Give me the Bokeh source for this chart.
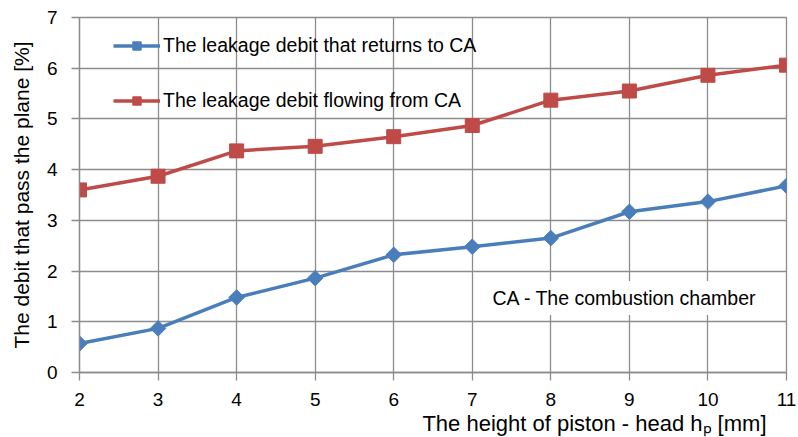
import math
from bokeh.plotting import figure
from bokeh.models import Range1d, Legend, LegendItem, Label, Title, FixedTicker
from bokeh.embed import file_html
from bokeh.resources import INLINE

heights = [2, 3, 4, 5, 6, 7, 8, 9, 10, 11]
returns_to_ca = [0.57, 0.87, 1.48, 1.86, 2.32, 2.48, 2.65, 3.17, 3.37, 3.68]
flowing_from_ca = [3.60, 3.87, 4.37, 4.46, 4.65, 4.87, 5.37, 5.55, 5.86, 6.06]
y_ticks = [0, 1, 2, 3, 4, 5, 6, 7]
name_returns = "The leakage debit that returns to CA"
name_flowing = "The leakage debit flowing from CA"
note_text = "CA - The combustion chamber"
x_title = "The height of piston - head hₚ [mm]"
y_title = "The debit that pass the plane [%]"

FONT = "Liberation Sans"
BLUE = "#4A7EBB"
RED = "#BE4B48"
GRID = "#8C8C8C"

p = figure(width=798, height=437, output_backend="svg", toolbar_location=None,
           x_range=Range1d(2, 11), y_range=Range1d(0, 7),
           min_border_left=79, min_border_right=12, min_border_top=17, min_border_bottom=65)
p.outline_line_color = GRID
p.outline_line_width = 1.3
p.background_fill_color = "white"

p.xaxis.ticker = FixedTicker(ticks=heights)
p.yaxis.ticker = FixedTicker(ticks=y_ticks)
for ax in (p.xaxis[0], p.yaxis[0]):
    ax.axis_line_color = GRID
    ax.axis_line_width = 1.3
    ax.major_tick_line_color = GRID
    ax.major_tick_line_width = 1.3
    ax.major_tick_out = 8
    ax.major_tick_in = 0
    ax.minor_tick_line_color = None
    ax.major_label_text_font = FONT
    ax.major_label_text_font_size = "19px"
    ax.major_label_text_color = "black"
p.xaxis.major_label_standoff = 12
p.yaxis.major_label_standoff = 14
p.yaxis.axis_label = y_title
p.yaxis.axis_label_text_font = FONT
p.yaxis.axis_label_text_font_size = "21px"
p.yaxis.axis_label_text_font_style = "normal"
p.yaxis.axis_label_text_color = "black"
p.yaxis.axis_label_standoff = 11

p.grid.grid_line_color = GRID
p.grid.grid_line_width = 1.3

xt = Title(text=x_title, align="right", offset=20, standoff=0,
           text_font=FONT, text_font_size="22px", text_font_style="normal",
           text_color="black")
p.add_layout(xt, "below")

note = Label(x=8.94, y=1.47, text=note_text, text_align="center", text_baseline="middle",
             text_font=FONT, text_font_size="19.5px", text_color="black",
             background_fill_color="white", padding=6)
p.add_layout(note)

r1 = p.line(heights, returns_to_ca, line_color=BLUE, line_width=3.5)
m1 = p.scatter(heights, returns_to_ca, marker="square", angle=math.pi / 4, size=11,
               fill_color=BLUE, line_color=BLUE)
r2 = p.line(heights, flowing_from_ca, line_color=RED, line_width=3.5)
m2 = p.scatter(heights, flowing_from_ca, marker="square", size=14, fill_color=RED, line_color=RED)

legend = Legend(items=[LegendItem(label=name_returns, renderers=[r1, m1]),
                       LegendItem(label=name_flowing, renderers=[r2, m2])],
                location=(34, 260), padding=0, margin=0, spacing=32,
                glyph_width=47, glyph_height=21, label_height=21, label_standoff=3,
                label_text_font=FONT, label_text_font_size="19.5px", label_text_color="black",
                background_fill_alpha=0, border_line_color=None)
p.add_layout(legend)

open("out.html", "w").write(file_html(p, INLINE))
